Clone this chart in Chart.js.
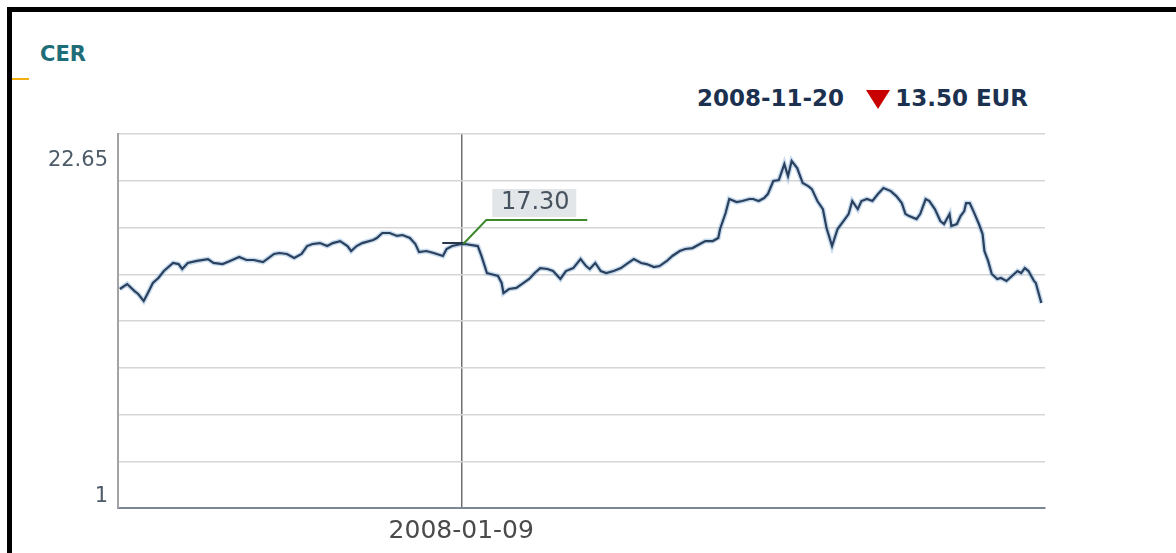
<!DOCTYPE html>
<html>
<head>
<meta charset="utf-8">
<script src="https://cdn.jsdelivr.net/npm/chart.js@4.4.1/dist/chart.umd.min.js"></script>
<style>
  html, body { margin: 0; padding: 0; background: #fff; }
  body { width: 1176px; height: 553px; position: relative; overflow: hidden; }
  .moldura { position: absolute; left: 7px; top: 7px; width: 1200px; height: 600px;
    border-top: 5px solid #000; border-left: 5px solid #000; }
  .traco { position: absolute; left: 12px; top: 78px; width: 17px; height: 2px; background: #f2b010; }
  .titulo { position: absolute; left: 40px; top: 42px; font: bold 21px "DejaVu Sans", sans-serif; color: #1e6d78; }
  .cabecalho { position: absolute; top: 87px; font: bold 23px "DejaVu Sans", sans-serif; color: #1c3150; line-height: 23px; white-space: nowrap; }
  .seta { position: absolute; left: 866px; top: 90px; width: 0; height: 0;
    border-left: 12px solid transparent; border-right: 12px solid transparent; border-top: 19px solid #c80000; }
  #grafico { position: absolute; left: 0; top: 0; }
</style>
</head>
<body>
<div class="moldura"></div>
<div class="traco"></div>
<div class="titulo">CER</div>
<div class="cabecalho" id="data-fim" style="left:697px"></div>
<div class="seta"></div>
<div class="cabecalho" id="valor-fim" style="right:148px"></div>
<canvas id="grafico" width="1176" height="553"></canvas>

<script>
// days counted from 2008-01-09, price in EUR
const startLabel = "2008-01-09";
const endLabel = "2008-11-20";
const currency = "EUR";

const days = [
  -186, -182, -178, -176, -173, -171, -168, -165, -162, -157, -154, -152, -149, -144, -138, -135,
  -130, -126, -121, -117, -113, -108, -102, -99, -95, -91, -87, -84, -81, -77, -73, -70,
  -66, -62, -60, -57, -54, -48, -46, -43, -39, -35, -32, -28, -25, -23, -19, -15,
  -10, -8, -5, 0, 2, 9, 11, 14, 16, 20, 22, 23, 26, 30, 33, 37,
  40, 43, 47, 50, 54, 57, 61, 65, 68, 70, 73, 76, 79, 83, 87, 90,
  94, 98, 101, 105, 108, 112, 115, 119, 122, 126, 130, 133, 137, 140, 141, 144,
  146, 150, 153, 157, 159, 162, 165, 167, 170, 173, 176, 178, 180, 183, 186, 189,
  191, 194, 197, 199, 202, 205, 209, 211, 213, 216, 218, 221, 224, 227, 230, 234,
  237, 240, 242, 244, 248, 250, 253, 255, 258, 261, 263, 266, 267, 270, 272, 274,
  275, 277, 279, 282, 284, 285, 287, 289, 292, 294, 297, 300, 303, 305, 307, 309,
  312, 313, 316
];

const prices = [
  14.40, 14.72, 14.27, 14.08, 13.63, 14.08, 14.79, 15.11, 15.56, 16.08, 16.01, 15.69, 16.08, 16.21, 16.33, 16.08,
  16.01, 16.21, 16.46, 16.27, 16.27, 16.14, 16.66, 16.72, 16.66, 16.40, 16.66, 17.17, 17.30, 17.36, 17.17, 17.36,
  17.49, 17.17, 16.85, 17.17, 17.36, 17.56, 17.69, 18.01, 18.01, 17.82, 17.88, 17.69, 17.30, 16.78, 16.85, 16.72,
  16.53, 16.98, 17.17, 17.30, 17.30, 17.17, 16.53, 15.43, 15.37, 15.24, 14.79, 14.14, 14.40, 14.47, 14.72, 15.05,
  15.43, 15.75, 15.69, 15.56, 15.05, 15.56, 15.75, 16.33, 15.88, 15.69, 16.08, 15.56, 15.43, 15.56, 15.75, 16.01,
  16.33, 16.08, 16.01, 15.82, 15.88, 16.21, 16.53, 16.85, 16.98, 17.04, 17.30, 17.49, 17.49, 17.69, 18.27, 19.30,
  20.20, 20.00, 20.07, 20.20, 20.20, 20.07, 20.26, 20.52, 21.36, 21.42, 22.45, 21.68, 22.65, 22.19, 21.23, 21.03,
  20.84, 20.07, 19.55, 18.33, 17.17, 18.27, 18.91, 19.23, 20.07, 19.55, 20.07, 20.20, 20.07, 20.52, 20.91, 20.71,
  20.39, 19.94, 19.23, 19.10, 18.91, 19.23, 20.20, 20.07, 19.55, 18.78, 18.59, 19.23, 18.46, 18.59, 19.10, 19.42,
  19.94, 19.94, 19.42, 18.59, 17.94, 16.85, 16.21, 15.37, 15.05, 15.11, 14.92, 15.24, 15.56, 15.43, 15.75, 15.56,
  14.92, 14.79, 13.50
];

const yLabels = [1, 22.65];
const markDay = 0;

const yMin = 0.29;
const yMax = 24.39;
const xMin = -187;
const xMax = 318;

document.addEventListener("DOMContentLoaded", () => {
  const ultimo = prices[prices.length - 1];
  document.getElementById("data-fim").textContent = endLabel;
  document.getElementById("valor-fim").textContent = ultimo.toFixed(2) + " " + currency;

  const pontos = days.map((d, i) => ({ x: d, y: prices[i] }));
  const markPrice = prices[days.indexOf(markDay)];

  const gridValues = [];
  for (let i = 0; i <= 8; i++) gridValues.push(yMin + (yMax - yMin) * i / 8);

  const isLabel = v => yLabels.some(l => Math.abs(l - v) < 1e-6);

  const marcador = {
    id: "marcador",
    afterDatasetsDraw(chart) {
      const { ctx, scales } = chart;
      const px = scales.x.getPixelForValue(markDay);
      const py = scales.y.getPixelForValue(markPrice);
      ctx.save();
      ctx.lineCap = "butt";
      ctx.strokeStyle = "#27384c";
      ctx.lineWidth = 2;
      ctx.beginPath();
      ctx.moveTo(px - 19, py - 1);
      ctx.lineTo(px + 3, py - 1);
      ctx.stroke();

      ctx.strokeStyle = "#3c8a2c";
      ctx.lineWidth = 2;
      ctx.beginPath();
      ctx.moveTo(px + 2, py);
      ctx.lineTo(px + 25, py - 24);
      ctx.lineTo(px + 126, py - 24);
      ctx.stroke();

      ctx.fillStyle = "#e2e6e9";
      ctx.fillRect(px + 31, py - 55, 84, 28);
      ctx.fillStyle = "#47535f";
      ctx.font = "24px 'DejaVu Sans'";
      ctx.textAlign = "center";
      ctx.textBaseline = "middle";
      ctx.fillText(markPrice.toFixed(2), px + 74, py - 41);
      ctx.restore();
    }
  };

  new Chart(document.getElementById("grafico").getContext("2d"), {
    type: "line",
    data: {
      datasets: [
        {
          data: pontos,
          borderColor: "#2b405c",
          borderWidth: 2.2,
          pointRadius: 0,
          tension: 0,
          order: 1
        },
        {
          data: pontos,
          borderColor: "rgba(130,175,220,0.45)",
          borderWidth: 5,
          pointRadius: 0,
          tension: 0,
          order: 2
        }
      ]
    },
    options: {
      responsive: false,
      animation: false,
      events: [],
      layout: { padding: { left: 0, top: 134, right: 131, bottom: 0 } },
      plugins: { legend: { display: false }, tooltip: { enabled: false } },
      scales: {
        x: {
          type: "linear",
          min: xMin,
          max: xMax,
          afterBuildTicks: scale => { scale.ticks = [{ value: markDay }]; },
          afterFit: scale => { scale.height = 45; },
          ticks: {
            autoSkip: false,
            maxRotation: 0,
            padding: 8,
            color: "#4a4a4a",
            font: { family: "DejaVu Sans", size: 25 },
            callback: () => startLabel
          },
          grid: { color: "#6f6f6f", lineWidth: 1.5, drawTicks: false },
          border: { color: "#7b8794", width: 2 }
        },
        y: {
          min: yMin,
          max: yMax,
          afterBuildTicks: scale => {
            scale.ticks = gridValues.concat(yLabels).sort((a, b) => a - b).map(v => ({ value: v }));
          },
          afterFit: scale => { scale.width = 118; },
          ticks: {
            autoSkip: false,
            padding: 10,
            color: "#4d5b69",
            font: { family: "DejaVu Sans", size: 21 },
            callback: v => isLabel(v) ? String(v) : ""
          },
          grid: {
            color: ctx => isLabel(ctx.tick.value) ? "rgba(0,0,0,0)" : "#d6d6d6",
            lineWidth: 1.5,
            drawTicks: false
          },
          border: { color: "#a3a3a3", width: 2 }
        }
      }
    },
    plugins: [marcador]
  });
});
</script>
</body>
</html>
